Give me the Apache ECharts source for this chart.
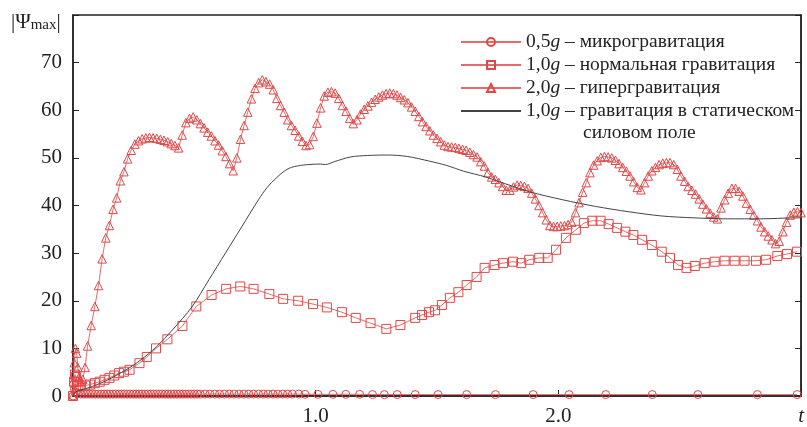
<!DOCTYPE html>
<html><head><meta charset="utf-8">
<script src="https://cdn.jsdelivr.net/npm/echarts@6/dist/echarts.min.js"></script>
<style>html,body{margin:0;padding:0;background:#fff}#c{width:807px;height:427px}</style>
</head><body><div id="c"></div>
<script>
// ---- data ----
const xTickLabels = {0: '', 1: '1.0', 2: '2.0', 3: 't'};
const yTicks = [0, 10, 20, 30, 40, 50, 60, 70];
const legendParts = [
  ['0,5', 'микрогравитация'],
  ['1,0', 'нормальная гравитация'],
  ['2,0', 'гипергравитация'],
  ['1,0', 'гравитация в статическом']
];
const legendSecondLine = 'силовом поле';

// 0,5g (circles): times and values
const circT = [0,0.003,0.006,0.01,0.02,0.032,0.044,0.056,0.068,0.08,0.092,0.104,0.116,0.128,0.14,0.152,0.164,0.176,0.188,0.2,0.212,0.224,0.236,0.248,0.26,0.272,0.284,0.296,0.308,0.32,0.332,0.344,0.356,0.368,0.38,0.392,0.404,0.416,0.428,0.44,0.452,0.464,0.476,0.488,0.5,0.512,0.524,0.544,0.564,0.584,0.604,0.624,0.644,0.664,0.684,0.704,0.724,0.744,0.764,0.784,0.804,0.824,0.844,0.864,0.884,0.904,0.93,0.956,1.009,1.071,1.124,1.181,1.234,1.283,1.336,1.41,1.504,1.622,1.741,1.896,2.044,2.195,2.387,2.575,2.82,2.984];
const circV = [0,2.5,1.5,0.8,0.5,0.4,0.4,0.4,0.4,0.4,0.4,0.4,0.4,0.4,0.4,0.4,0.4,0.4,0.4,0.4,0.4,0.4,0.4,0.4,0.4,0.4,0.4,0.4,0.4,0.4,0.4,0.4,0.4,0.4,0.4,0.4,0.4,0.4,0.4,0.4,0.4,0.4,0.4,0.4,0.4,0.4,0.4,0.4,0.4,0.4,0.4,0.4,0.4,0.4,0.4,0.4,0.4,0.4,0.4,0.4,0.4,0.4,0.4,0.4,0.4,0.4,0.4,0.35,0.35,0.35,0.35,0.35,0.3,0.3,0.3,0.3,0.3,0.3,0.3,0.3,0.3,0.3,0.3,0.3,0.3,0.3];

// 1,0g (squares): [t, |Psi_max|]
const sqData = [[0,0],[0.004,3],[0.008,4.5],[0.012,4],[0.016,3],[0.022,2.3],[0.03,2.0],[0.05,2.2],[0.07,2.4],[0.09,2.7],[0.11,3.0],[0.13,3.4],[0.15,3.8],[0.17,4.3],[0.19,4.8],[0.21,5.1],[0.233,5.5],[0.274,6.9],[0.304,8.2],[0.342,10],[0.389,11.9],[0.451,14.7],[0.508,18.8],[0.571,21.2],[0.631,22.5],[0.689,23.0],[0.744,22.5],[0.809,21.4],[0.866,20.4],[0.928,20.0],[0.989,19.3],[1.046,18.6],[1.108,17.6],[1.165,16.4],[1.226,15.3],[1.291,14.1],[1.349,14.9],[1.41,16.4],[1.438,17.0],[1.467,17.6],[1.492,18.0],[1.52,19.1],[1.553,20.6],[1.588,21.8],[1.622,23.3],[1.663,25.0],[1.696,26.9],[1.737,27.5],[1.772,27.9],[1.813,28.2],[1.847,27.9],[1.88,28.6],[1.921,29.0],[1.956,29.0],[1.99,30.7],[2.031,33.2],[2.072,34.9],[2.105,36.3],[2.14,36.8],[2.174,36.8],[2.207,36.1],[2.242,35.3],[2.276,34.5],[2.309,33.8],[2.345,32.8],[2.385,31.7],[2.426,30.3],[2.46,29.0],[2.493,27.5],[2.528,26.9],[2.562,27.3],[2.603,27.9],[2.644,28.2],[2.685,28.4],[2.726,28.4],[2.767,28.4],[2.814,28.4],[2.855,28.6],[2.902,29.4],[2.942,29.8],[2.983,30.3]];

// 2,0g (triangles): [t, |Psi_max|]
const triData = [[0,0],[0.005,7],[0.01,10],[0.015,9],[0.02,6],[0.025,4],[0.03,3],[0.04,3.5],[0.05,6],[0.06,10.5],[0.075,14.8],[0.09,18.8],[0.105,23.2],[0.12,28.8],[0.135,33.2],[0.15,35.8],[0.165,39.2],[0.18,41.6],[0.195,45.2],[0.21,47.1],[0.225,49.8],[0.24,51.6],[0.255,52.9],[0.27,53.6],[0.285,54.0],[0.3,54.2],[0.315,54.3],[0.33,54.2],[0.345,54.1],[0.36,53.9],[0.375,53.7],[0.39,53.4],[0.405,53.0],[0.42,52.6],[0.435,52.1],[0.45,54.8],[0.465,57.4],[0.48,58.3],[0.495,58.6],[0.51,58.0],[0.525,57.2],[0.54,56.3],[0.555,55.4],[0.57,54.6],[0.585,53.6],[0.6,52.7],[0.615,51.5],[0.63,50.3],[0.645,48.8],[0.66,47.3],[0.675,50.0],[0.69,53.9],[0.705,56.8],[0.72,59.6],[0.735,62.4],[0.75,64.6],[0.765,65.8],[0.78,66.4],[0.795,66.0],[0.81,65.5],[0.825,64.3],[0.84,62.5],[0.855,61.0],[0.87,59.6],[0.885,58.0],[0.9,56.8],[0.915,55.8],[0.93,54.6],[0.945,53.5],[0.96,52.6],[0.975,52.8],[0.99,54.5],[1.005,57.3],[1.02,60.5],[1.035,63.0],[1.05,63.8],[1.065,63.9],[1.08,63.6],[1.095,62.5],[1.11,61.0],[1.125,59.8],[1.14,58.3],[1.155,57.2],[1.17,58.0],[1.185,59.2],[1.2,60.2],[1.215,60.9],[1.23,61.7],[1.245,62.3],[1.26,62.8],[1.275,63.2],[1.29,63.5],[1.305,63.6],[1.32,63.5],[1.335,63.2],[1.35,62.7],[1.365,62.2],[1.38,61.6],[1.395,60.7],[1.41,59.8],[1.425,58.7],[1.44,57.6],[1.455,56.6],[1.47,55.7],[1.485,54.8],[1.5,54.1],[1.515,53.4],[1.53,52.7],[1.545,52.4],[1.56,52.3],[1.575,52.2],[1.59,52.0],[1.605,51.8],[1.62,51.6],[1.635,51.2],[1.65,50.7],[1.665,50.2],[1.68,49.2],[1.695,48.3],[1.71,46.9],[1.725,46.0],[1.74,45.5],[1.755,44.8],[1.77,44.0],[1.785,43.2],[1.8,43.2],[1.815,43.9],[1.83,44.3],[1.845,44.2],[1.86,44.0],[1.875,43.6],[1.89,42.6],[1.905,41.4],[1.92,40.0],[1.935,38.5],[1.95,37.0],[1.965,35.8],[1.98,35.6],[1.995,35.6],[2.01,35.7],[2.025,35.8],[2.04,36.0],[2.055,36.5],[2.07,38.5],[2.085,40.6],[2.1,42.8],[2.115,44.8],[2.13,46.9],[2.145,48.5],[2.16,49.4],[2.175,50.1],[2.19,50.3],[2.205,50.2],[2.22,50.0],[2.235,49.5],[2.25,48.8],[2.265,48.0],[2.28,47.2],[2.295,46.2],[2.31,45.0],[2.325,43.8],[2.34,43.3],[2.355,44.8],[2.37,46.2],[2.385,47.3],[2.4,48.0],[2.415,48.6],[2.43,48.9],[2.445,49.0],[2.46,49.0],[2.475,48.6],[2.49,47.6],[2.505,46.2],[2.52,45.1],[2.535,44.0],[2.55,43.2],[2.565,42.4],[2.58,41.4],[2.595,40.3],[2.61,39.3],[2.625,38.4],[2.64,37.6],[2.655,37.2],[2.67,39.5],[2.685,41.2],[2.7,42.6],[2.715,43.6],[2.73,43.6],[2.745,43.0],[2.76,42.0],[2.775,40.5],[2.79,39.2],[2.805,38.0],[2.82,36.8],[2.835,35.5],[2.85,34.5],[2.865,33.6],[2.88,32.8],[2.895,32.0],[2.91,32.5],[2.925,34.5],[2.94,36.5],[2.955,38.0],[2.97,38.6],[2.985,38.7],[3.0,38.5]];

// 1,0g static force field (black line)
const staticData = [[0,0],[0.01,0.8],[0.03,1.2],[0.08,2.0],[0.14,3.3],[0.219,5.5],[0.28,7.6],[0.343,10.3],[0.41,13.9],[0.49,18.7],[0.56,24.4],[0.628,30],[0.695,35.5],[0.764,41.2],[0.8,43.8],[0.838,45.8],[0.87,47.2],[0.9,48.0],[0.95,48.5],[1.02,48.7],[1.04,48.6],[1.077,49.2],[1.144,50.2],[1.214,50.5],[1.296,50.6],[1.377,50.3],[1.47,49.3],[1.54,48.4],[1.61,47.2],[1.7,46.0],[1.745,45.2],[1.88,42.9],[2.018,41.2],[2.154,39.8],[2.288,38.7],[2.426,37.8],[2.562,37.4],[2.697,37.2],[2.835,37.2],[2.971,37.4],[3.0,37.4]];

// ---- chart ----
const FONT = '"Liberation Serif", "DejaVu Serif", serif';
const RED_LINE = '#e66a6c';
const RED_MARK = '#e04848';
const LEG_FS = 19.5;
const TICK_FS = 21;
const names = legendParts.map(p => p[0] + 'g – ' + p[1]);

const chart = echarts.init(document.getElementById('c'), null, {renderer: 'canvas'});

function redSeries(name, data, symbol, size) {
  return {
    name, type: 'line', data, symbol, symbolSize: size,
    lineStyle: {color: RED_LINE, width: 1},
    itemStyle: {color: 'rgba(255,255,255,0)', borderColor: RED_MARK, borderWidth: 1},
    emphasis: {disabled: true}, z: 3
  };
}

const axisCommon = {
  type: 'value', min: 0, max: 80, interval: 10,
  splitLine: {show: false},
  axisLine: {show: true, lineStyle: {color: '#222', width: 1.5}},
  axisTick: {show: true, inside: true, length: 6, lineStyle: {color: '#222', width: 1}}
};

chart.setOption({
  animation: false,
  backgroundColor: '#fff',
  grid: {left: 73, top: 15, right: 0, bottom: 31, show: true, borderColor: '#222', borderWidth: 1.5, containLabel: false},
  xAxis: {
    type: 'value', min: 0, max: 3, interval: 1,
    splitLine: {show: false},
    axisLine: {show: true, onZero: false, lineStyle: {color: '#222', width: 1.5}},
    axisTick: {show: true, inside: true, length: 6, lineStyle: {color: '#222', width: 1}},
    axisLabel: {
      margin: 10, fontFamily: FONT, fontSize: TICK_FS, color: '#222',
      formatter: v => (v === 3 ? '{t|' + xTickLabels[3] + '}' : (xTickLabels[v] !== undefined ? xTickLabels[v] : '')),
      rich: {t: {fontStyle: 'italic', fontFamily: FONT, fontSize: TICK_FS, color: '#222'}}
    }
  },
  yAxis: [
    Object.assign({}, axisCommon, {
      position: 'left',
      axisLabel: {margin: 11, fontFamily: FONT, fontSize: TICK_FS, color: '#222',
        formatter: v => (yTicks.indexOf(v) >= 0 ? String(v) : '')}
    }),
    Object.assign({}, axisCommon, {position: 'right', axisLabel: {show: false}})
  ],
  legend: {
    orient: 'vertical', left: 455, top: 27, itemWidth: 60, itemHeight: 10, itemGap: 3,
    selectedMode: false, data: names,
    textStyle: {fontFamily: FONT, fontSize: LEG_FS, color: '#222',
      rich: {
        n: {fontFamily: FONT, fontSize: LEG_FS, color: '#222', lineHeight: 22},
        i: {fontFamily: FONT, fontSize: LEG_FS, color: '#222', lineHeight: 22, fontStyle: 'italic'}
      }},
    formatter: name => {
      const p = legendParts[names.indexOf(name)];
      return '{n|' + p[0] + '}{i|g}{n| – ' + p[1] + '}';
    }
  },
  graphic: [
    {type: 'text', left: 583, top: 123, style: {text: legendSecondLine, font: LEG_FS + 'px ' + FONT, fill: '#222'}},
    {type: 'text', left: 11, top: 8, style: {
      text: '{a||Ψ}{s|max}{a||}',
      rich: {
        a: {fontFamily: FONT, fontSize: 21, fill: '#222', lineHeight: 24, verticalAlign: 'bottom'},
        s: {fontFamily: FONT, fontSize: 15, fill: '#222', lineHeight: 24, verticalAlign: 'bottom', padding: [10, 0, 0, 0]}
      }
    }}
  ],
  series: [
    redSeries(names[0], circT.map((t, i) => [t, circV[i]]), 'circle', 8),
    redSeries(names[1], sqData, 'rect', 9),
    redSeries(names[2], triData, 'triangle', 8.5),
    {name: names[3], type: 'line', data: staticData, symbol: 'none', smooth: 0.3,
      lineStyle: {color: '#444', width: 1}, itemStyle: {color: 'rgba(0,0,0,0)', borderWidth: 0},
      emphasis: {disabled: true}, z: 4}
  ]
});
</script>
</body></html>
